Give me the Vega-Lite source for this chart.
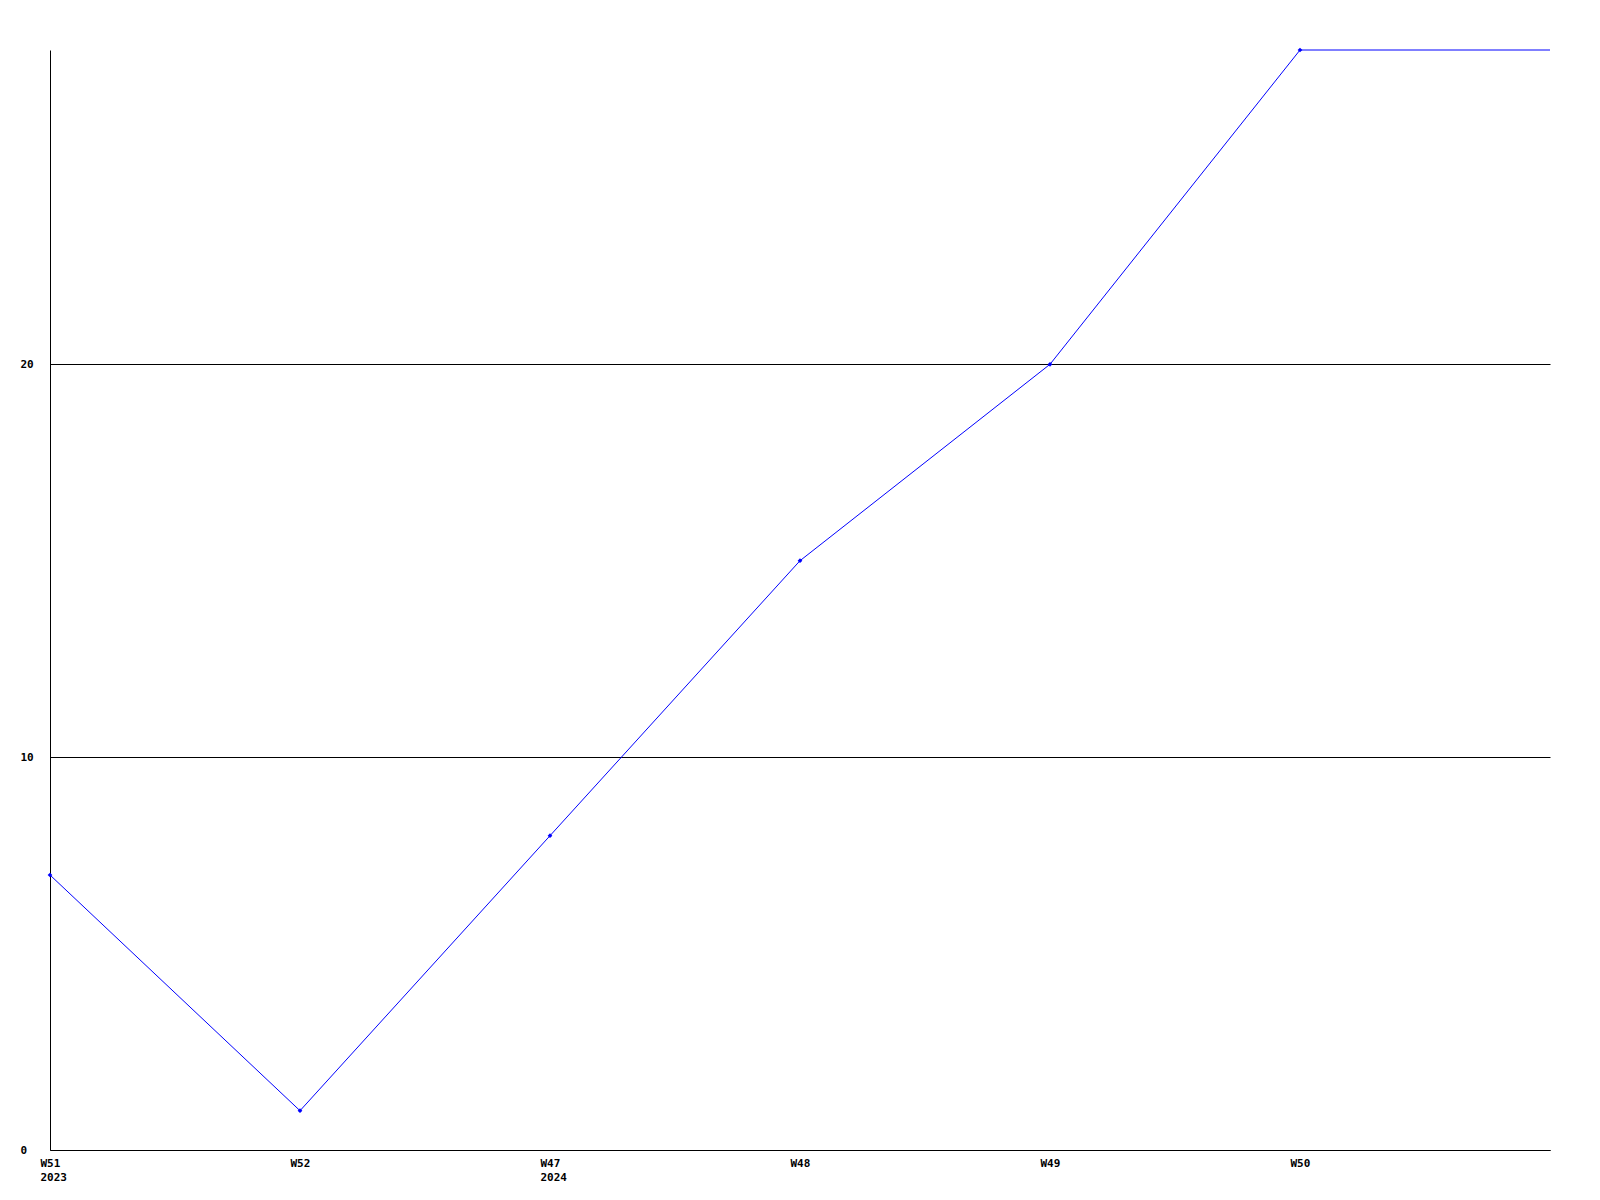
{
  "$schema": "https://vega.github.io/schema/vega-lite/v6.json",
  "width": 1500,
  "height": 1100,
  "autosize": {"type": "none"},
  "padding": {"left": 50, "top": 50, "right": 50, "bottom": 50},
  "background": "white",
  "config": {"view": {"stroke": null}},
  "data": {
    "values": [
      {"wk": "W51|2023", "value": 7, "marker": true},
      {"wk": "W52", "value": 1, "marker": true},
      {"wk": "W47|2024", "value": 8, "marker": true},
      {"wk": "W48", "value": 15, "marker": true},
      {"wk": "W49", "value": 20, "marker": true},
      {"wk": "W50", "value": 28, "marker": true},
      {"wk": "W51|2024", "value": 28, "marker": false}
    ]
  },
  "encoding": {
    "x": {
      "field": "wk",
      "type": "ordinal",
      "sort": null,
      "scale": {"type": "point", "padding": 0},
      "axis": {
        "title": null,
        "labelAngle": 0,
        "ticks": false,
        "grid": false,
        "domainColor": "black",
        "domainWidth": 1,
        "labelAlign": "left",
        "labelBaseline": "top",
        "labelOffset": -10,
        "labelPadding": 7,
        "labelFont": "DejaVu Sans Mono",
        "labelFontWeight": "bold",
        "labelFontSize": 11,
        "labelColor": "black",
        "labelLineHeight": 14,
        "labelOverlap": false,
        "labelExpr": "datum.value == 'W51|2024' ? '' : split(datum.value, '|')"
      }
    },
    "y": {
      "field": "value",
      "type": "quantitative",
      "scale": {"domain": [0, 28], "nice": false},
      "axis": {
        "title": null,
        "values": [0, 10, 20],
        "ticks": false,
        "grid": true,
        "gridColor": "black",
        "gridOpacity": 1,
        "gridWidth": 1,
        "domainColor": "black",
        "domainWidth": 1,
        "labelAlign": "left",
        "labelPadding": 30,
        "labelFont": "DejaVu Sans Mono",
        "labelFontWeight": "bold",
        "labelFontSize": 11,
        "labelColor": "black"
      }
    }
  },
  "layer": [
    {"mark": {"type": "line", "color": "#0000ff", "strokeWidth": 1}},
    {
      "transform": [{"filter": "datum.marker"}],
      "mark": {"type": "point", "shape": "diamond", "filled": true, "color": "#0000ff", "size": 22, "opacity": 1}
    }
  ]
}
